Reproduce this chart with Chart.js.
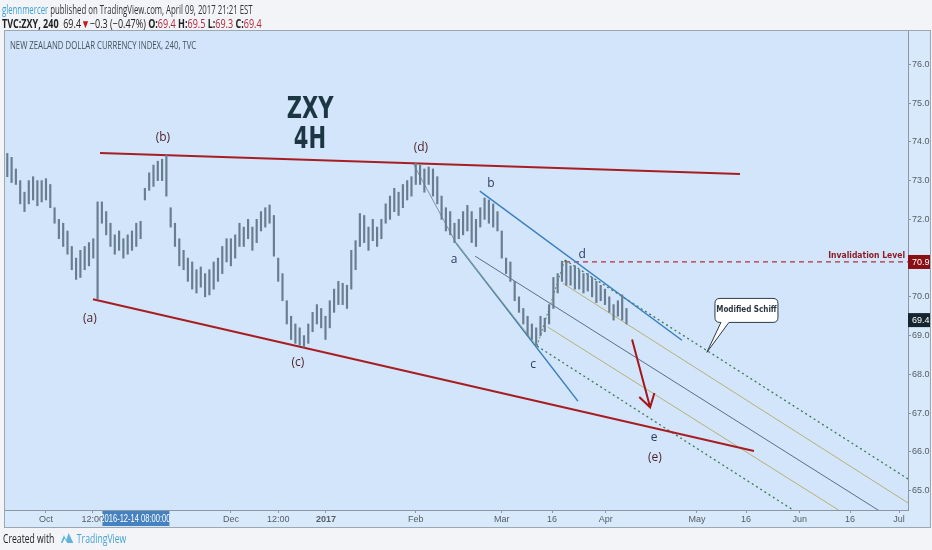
<!DOCTYPE html>
<html>
<head>
<meta charset="utf-8">
<script src="https://cdn.jsdelivr.net/npm/chart.js@4.4.1/dist/chart.umd.min.js"></script>
<style>
  body { margin:0; width:932px; height:550px; overflow:hidden; background:#f2f4f7; position:relative; font-family:"Open Sans", sans-serif; }
  #panel { position:absolute; left:4px; top:30px; width:925px; height:496px; border:1px solid #9ba7b3; background:#d2e5fa; }
  #yband { position:absolute; left:909px; top:31px; width:20px; height:496px; background:#d7e9fb; }
  #xband { position:absolute; left:5px; top:511px; width:904px; height:16px; background:#d7e9fb; }
  canvas { position:absolute; left:0; top:0; }
  .txt { position:absolute; white-space:nowrap; transform-origin:0 0; }
  .red { color:#b3283a; }
</style>
</head>
<body>
<div id="panel"></div>
<div id="yband"></div>
<div id="xband"></div>
<canvas id="zxy" width="932" height="550"></canvas>

<div class="txt" style="left:2px;top:1px;font-size:12px;color:#333;transform:scaleX(.65)">
  <span style="color:#3c9fd6">glennmercer</span> published on TradingView.com, April 09, 2017 21:21 EST
</div>
<div class="txt" style="left:2px;top:15px;font-size:12px;color:#222;transform:scaleX(.75)">
  <b>TVC:ZXY, 240</b>&nbsp; 69.4<span style="color:#c21c1c">▼</span>−0.3 (−0.47%) <b>O:</b><span class="red">69.4</span> <b>H:</b><span class="red">69.5</span> <b>L:</b><span class="red">69.3</span> <b>C:</b><span class="red">69.4</span>
</div>
<div class="txt" style="left:10px;top:38px;font-size:10.5px;color:#46525e;transform:scaleX(.74)">NEW ZEALAND DOLLAR CURRENCY INDEX, 240, TVC</div>
<div class="txt" style="left:3px;top:530px;font-size:12px;color:#222;transform:scaleX(.72)">Created with
  <svg width="20" height="12" viewBox="0 0 16 11" style="vertical-align:-1px;margin-left:5px"><path d="M0 10 L4 3 L7 7 L10 1 L16 10 Z" fill="#5fb3e0"/><path d="M2 10 L5 6 L8 10 Z" fill="#fff"/></svg>
  <span style="color:#4aa3d8">TradingView</span>
</div>

<script>
// 4H chart shown as one bar per trading day, day 0 = first trading day of October 2016
const firstDay = -9;
const highs = [
  73.7, 73.6, 73.3, 73.0, 72.7, 73.0, 73.1, 73.0, 73.0,
  73.05, 72.9, 72.3, 72.0, 71.9, 71.7, 71.3, 71.0, 71.2, 71.3,
  71.4, 71.5, 72.45, 72.45, 72.2, 71.9, 71.6, 71.7, 71.5, 71.6,
  71.7, 71.9, 71.95, 72.8, 73.2, 73.4, 73.5, 73.55, 73.66, 72.3,
  71.9, 71.5, 71.2, 71.0, 70.9, 70.7, 70.77, 70.6, 70.7, 70.9,
  71.0, 71.3, 71.5, 71.5, 71.6, 71.9, 71.8, 72.0, 71.8, 72.0,
  72.2, 72.3, 72.37, 72.1, 71.0, 70.6, 69.9, 69.5, 69.3, 69.2,
  69.0, 69.3, 69.6, 69.8, 69.7, 69.5, 69.9, 70.2, 70.4, 70.35,
  70.3, 71.2, 71.45, 72.15, 72.1, 71.8, 72.0, 71.8, 72.0, 72.4,
  72.6, 72.8, 72.7, 72.9, 73.0, 73.1, 73.45, 73.4, 73.3, 73.35,
  73.3, 73.1, 72.6, 72.3, 72.2, 71.9, 72.0, 72.2, 72.36, 72.2,
  72.0, 72.3, 72.55, 72.5, 72.4, 72.2, 71.7, 71.0, 70.9, 70.4,
  70.0, 69.7, 69.5, 69.3, 69.2, 69.5, 69.45, 69.8, 70.5, 70.6,
  70.92, 70.9, 70.8, 70.8, 70.7, 70.6, 70.6, 70.5, 70.4, 70.3,
  70.2, 70.0, 69.8, 69.9, 70.05, 69.7
];
const lows = [
  73.1, 72.95, 72.9, 72.4, 72.2, 72.4, 72.5, 72.35, 72.45,
  72.5, 72.3, 71.9, 71.5, 71.3, 71.1, 70.7, 70.45, 70.5, 70.7,
  70.8, 71.0, 69.95, 71.9, 71.6, 71.3, 71.1, 71.2, 71.0, 71.1,
  71.2, 71.3, 71.5, 72.5, 72.75, 72.85, 73.0, 73.0, 72.6, 71.8,
  71.3, 70.8, 70.7, 70.4, 70.2, 70.1, 70.25, 70.0, 70.05, 70.2,
  70.4, 70.6, 70.9, 70.8, 71.0, 71.3, 71.3, 71.5, 71.2, 71.4,
  71.7, 71.8, 71.9, 71.05, 70.4, 69.9, 69.3, 68.9, 68.8, 68.75,
  68.7, 68.8, 69.1, 69.3, 69.2, 68.9, 69.2, 69.6, 69.8, 69.8,
  69.7, 70.2, 70.7, 71.3, 71.4, 71.2, 71.45, 71.3, 71.5, 71.9,
  72.0, 72.2, 72.1, 72.3, 72.5, 72.6, 72.9, 72.9, 72.7, 72.9,
  72.6, 72.4, 72.0, 71.7, 71.6, 71.4, 71.5, 71.6, 71.7, 71.4,
  71.3, 71.8, 72.0, 71.9, 71.8, 71.7, 71.0, 70.6, 70.4, 69.9,
  69.6, 69.3, 69.0, 68.9, 68.75, 69.0, 69.1, 69.3, 69.7, 70.1,
  70.4, 70.3, 70.3, 70.2, 70.2, 70.1, 70.15, 70.0, 69.85, 69.9,
  69.8, 69.6, 69.4, 69.5, 69.4, 69.3
];

const priceTicks = [65, 66, 67, 68, 69, 70, 71, 72, 73, 74, 75, 76];
const timeTicks = [0, 10.9, 43, 54, 65.1, 86, 106, 117.7, 130.2, 151.4, 162.8, 175.3, 187, 198.4];
const timeLabels = ['Oct', '12:00', 'Dec', '12:00', '2017', 'Feb', 'Mar', '16', 'Apr', 'May', '16', 'Jun', '16', 'Jul'];

// drawings (day, price)
const wedgeTop = [[12.56, 73.71], [161.4, 73.17]];
const wedgeBottom = [[10.93, 69.94], [164.65, 66.02]];
const channelTop = [[100.9, 72.73], [147.9, 68.88]];
const channelBottom = [[95.35, 71.39], [123.7, 67.31]];
const medianLine = [[99.8, 71.05], [200.5, 64.01]];
const forkUpper = [[120.7, 70.95], [200.5, 65.30]];
const forkUpperHalf = [[120.2, 70.35], [200.5, 64.68]];
const forkLowerHalf = [[116.7, 69.22], [200.5, 63.37]];
const forkLower = [[114.2, 68.73], [200.5, 62.6]];
const legAC = [[95.35, 71.39], [114.2, 68.73]];
const legCD = [[114.2, 68.73], [120.7, 70.97]];
const legDA = [[85.35, 73.45], [95.35, 71.39]];
const invalidation = [[120.7, 70.9], [200.5, 70.9]];
const arrowPath = [[136.3, 68.9], [140.5, 67.15]];

const bigWave = [['(a)', 10.2, 69.45], ['(b)', 27.2, 74.10], ['(c)', 58.6, 68.31], ['(d)', 87.2, 73.84], ['(e)', 141.6, 65.84]];
const smallWave = [['b', 103.5, 72.93], ['a', 94.9, 70.97], ['c', 113.3, 68.24], ['d', 124.7, 71.1], ['e', 141.4, 66.36]];
const lastPrice = 69.4;
const invalidPrice = 70.9;
const calloutTip = [153.7, 68.57];
const calloutBox = [162.9, 69.65];
const cursorDay = 20.8;

function seg(pts, color, width, dash) {
  return {
    type: 'line',
    data: pts.map(p => ({ x: p[0], y: p[1] })),
    borderColor: color,
    borderWidth: width,
    borderDash: dash || [],
    pointRadius: 0,
    fill: false,
    tension: 0
  };
}

const bars = highs.map((h, i) => ({ x: firstDay + i, y: [lows[i], h] }));

const notes = {
  id: 'notes',
  afterDatasetsDraw(chart) {
    const { ctx, chartArea, scales: { x, y } } = chart;
    const px = v => x.getPixelForValue(v);
    const py = v => y.getPixelForValue(v);
    ctx.save();
    ctx.textAlign = 'center';
    ctx.textBaseline = 'middle';

    // title, narrow like the original
    ctx.fillStyle = '#1c3644';
    ctx.font = 'bold 30px "DejaVu Sans Condensed"';
    [['ZXY', 74.82], ['4H', 74.05]].forEach(t => {
      ctx.save();
      ctx.translate(px(61.4), py(t[1]));
      ctx.scale(0.78, 1);
      ctx.fillText(t[0], 0, 0);
      ctx.restore();
    });

    // wave labels
    ctx.font = '12px "Open Sans"';
    ctx.fillStyle = '#4e1f24';
    bigWave.forEach(w => ctx.fillText(w[0], px(w[1]), py(w[2])));
    ctx.fillStyle = '#2d3c63';
    smallWave.forEach(w => ctx.fillText(w[0], px(w[1]), py(w[2])));

    // invalidation label
    ctx.font = 'bold 8.5px "DejaVu Sans Condensed"';
    ctx.fillStyle = '#8e1b26';
    ctx.textAlign = 'right';
    ctx.fillText('Invalidation Level', chartArea.right - 3, py(invalidPrice) - 6);

    // arrow
    const x1 = px(arrowPath[0][0]), y1 = py(arrowPath[0][1]);
    const x2 = px(arrowPath[1][0]), y2 = py(arrowPath[1][1]);
    const ang = Math.atan2(y2 - y1, x2 - x1);
    ctx.strokeStyle = '#a4161a';
    ctx.lineWidth = 2;
    ctx.beginPath();
    ctx.moveTo(x1, y1); ctx.lineTo(x2, y2);
    ctx.moveTo(x2 - 15 * Math.cos(ang - 0.55), y2 - 15 * Math.sin(ang - 0.55));
    ctx.lineTo(x2, y2);
    ctx.lineTo(x2 - 15 * Math.cos(ang + 0.55), y2 - 15 * Math.sin(ang + 0.55));
    ctx.stroke();

    // callout
    const bx = px(calloutBox[0]), by = py(calloutBox[1]);
    const tx = px(calloutTip[0]), ty = py(calloutTip[1]);
    const w = 63, h = 24, r = 5;
    const l = bx - w / 2, t = by - h / 2;
    ctx.beginPath();
    ctx.moveTo(l + r, t);
    ctx.lineTo(l + w - r, t); ctx.quadraticCurveTo(l + w, t, l + w, t + r);
    ctx.lineTo(l + w, t + h - r); ctx.quadraticCurveTo(l + w, t + h, l + w - r, t + h);
    ctx.lineTo(l + 14, t + h); ctx.lineTo(tx, ty); ctx.lineTo(l + 6, t + h);
    ctx.lineTo(l + r, t + h); ctx.quadraticCurveTo(l, t + h, l, t + h - r);
    ctx.lineTo(l, t + r); ctx.quadraticCurveTo(l, t, l + r, t);
    ctx.closePath();
    ctx.fillStyle = '#ffffff';
    ctx.fill();
    ctx.strokeStyle = '#2a3b48';
    ctx.lineWidth = 1;
    ctx.stroke();
    ctx.fillStyle = '#2a3640';
    ctx.textAlign = 'center';
    ctx.font = 'bold 8px "DejaVu Sans Condensed"';
    ctx.fillText('Modified Schiff', bx, by);
    ctx.restore();
  },
  afterDraw(chart) {
    const { ctx, chartArea, scales: { x, y } } = chart;
    ctx.save();
    ctx.textBaseline = 'middle';
    ctx.font = '9px "Liberation Sans"';
    // price boxes on the axis
    [[invalidPrice, '#8a0f14'], [lastPrice, '#14252f']].forEach(b => {
      const yy = y.getPixelForValue(b[0]);
      ctx.fillStyle = b[1];
      ctx.fillRect(chartArea.right, yy - 7, 22, 14);
      ctx.fillStyle = '#fff';
      ctx.textAlign = 'left';
      ctx.fillText(b[0].toFixed(1), chartArea.right + 4, yy + 0.5);
    });
    // crosshair date box
    const cx = x.getPixelForValue(cursorDay);
    ctx.fillStyle = '#4682bf';
    ctx.fillRect(cx - 33, chartArea.bottom + 1, 67, 15);
    ctx.fillStyle = '#fff';
    ctx.translate(cx, chartArea.bottom + 9);
    ctx.scale(0.72, 1);
    ctx.textAlign = 'center';
    ctx.font = '10.5px "Liberation Sans"';
    ctx.fillText('2016-12-14 08:00:00', 0, 0);
    ctx.restore();
  }
};

new Chart(document.getElementById('zxy'), {
  type: 'bar',
  data: {
    datasets: [
      { type: 'bar', data: bars, backgroundColor: '#687d8f', barThickness: 1.5, grouped: false },
      seg(wedgeTop, '#a81d22', 2),
      seg(wedgeBottom, '#a81d22', 2),
      seg(legDA, '#6c7d8c', 0.8),
      seg(legAC, '#a9a46a', 0.8),
      seg(legCD, '#4f8a5a', 1, [2, 2]),
      seg(channelTop, '#3b7fc0', 1.5),
      seg(channelBottom, '#3b7fc0', 1.5),
      seg(medianLine, '#4d5f80', 0.9),
      seg(forkUpperHalf, '#b8b077', 1),
      seg(forkLowerHalf, '#b8b077', 1),
      seg(forkUpper, '#3d7a52', 1.3, [2, 3]),
      seg(forkLower, '#3d7a52', 1.3, [2, 3]),
      seg(invalidation, '#b0313b', 1.2, [5, 4])
    ]
  },
  options: {
    responsive: false,
    animation: false,
    layout: { padding: { left: 5, top: 31, right: 2, bottom: 23 } },
    plugins: { legend: { display: false }, tooltip: { enabled: false } },
    scales: {
      x: {
        type: 'linear',
        min: -9.53,
        max: 200.47,
        offset: false,
        afterBuildTicks: s => { s.ticks = timeTicks.map(v => ({ value: v })); },
        afterFit: s => { s.height = 17; },
        ticks: {
          callback: (v, i) => timeLabels[i],
          autoSkip: false,
          maxRotation: 0,
          padding: 1,
          color: '#555c63',
          font: c => ({ family: 'Liberation Sans', size: 9, weight: c.tick && c.tick.label === '2017' ? 'bold' : 'normal' })
        },
        grid: { drawOnChartArea: false, offset: false, tickLength: 3, color: '#8a97a4' },
        border: { color: '#8a97a4' }
      },
      y: {
        position: 'right',
        min: 64.5,
        max: 76.86,
        afterBuildTicks: s => { s.ticks = priceTicks.map(v => ({ value: v })); },
        afterFit: s => { s.width = 22; },
        ticks: {
          callback: v => v.toFixed(1),
          padding: 1,
          color: '#555c63',
          font: { family: 'Liberation Sans', size: 9 }
        },
        grid: { drawOnChartArea: false, tickLength: 3, color: '#8a97a4' },
        border: { color: '#8a97a4' }
      }
    }
  },
  plugins: [notes]
});
</script>
</body>
</html>
